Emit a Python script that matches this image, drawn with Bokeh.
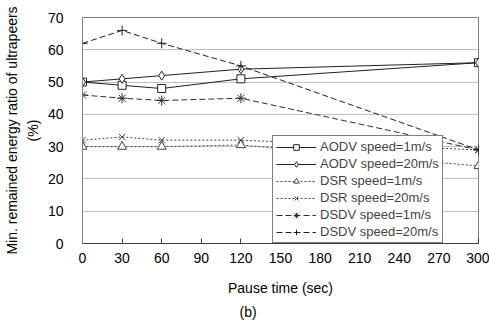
from bokeh.plotting import figure
from bokeh.models import Range1d, FixedTicker, Legend, Title
from bokeh.embed import file_html
from bokeh.resources import INLINE

pause = [0, 30, 60, 120, 300]
aodv_1 = [50, 49, 48, 51, 56]
aodv_20 = [50, 51, 52, 54, 56]
dsr_1 = [30, 30, 30, 30.5, 24]
dsr_20 = [32, 33, 32, 32, 29]
dsdv_1 = [46, 45, 44.3, 45, 29]
dsdv_20 = [62, 66, 62, 55, 29]

x_ticks = list(range(0, 301, 30))
y_ticks = list(range(0, 71, 10))

FONT = "Liberation Sans"

p = figure(width=489, height=326, output_backend="svg", toolbar_location=None,
           x_range=Range1d(0, 300), y_range=Range1d(0, 70),
           min_border_left=82, min_border_right=11, min_border_top=17, min_border_bottom=83)
p.background_fill_color = "white"
p.outline_line_color = "#808080"
p.outline_line_width = 1

p.xgrid.grid_line_color = None
p.ygrid.grid_line_color = "#c0c0c0"
p.ygrid.ticker = FixedTicker(ticks=y_ticks)

p.xaxis.ticker = FixedTicker(ticks=x_ticks)
p.yaxis.ticker = FixedTicker(ticks=y_ticks)
p.xaxis.minor_tick_line_color = None
p.yaxis.minor_tick_line_color = None
p.xaxis.major_tick_in = 5
p.xaxis.major_tick_out = 0
p.xaxis.major_tick_line_color = "#404040"
p.yaxis.major_tick_line_color = None
p.xaxis.axis_line_color = "#404040"
p.yaxis.axis_line_color = "#808080"

for ax in (p.xaxis[0], p.yaxis[0]):
    ax.major_label_text_font = FONT
    ax.major_label_text_font_size = "14px"
    ax.major_label_text_color = "black"
    ax.axis_label_text_font = FONT
    ax.axis_label_text_font_size = "14px"
    ax.axis_label_text_font_style = "normal"
    ax.axis_label_text_color = "black"

p.xaxis.axis_label = "Pause time (sec)"
p.xaxis.major_label_standoff = 9
p.xaxis.axis_label_standoff = 14
p.yaxis.axis_label = "Min. remained energy ratio of ultrapeers\n(%)"
p.yaxis.axis_label_text_line_height = 1.3
p.yaxis.major_label_standoff = 13
p.yaxis.axis_label_standoff = 4

series = [
    ("AODV speed=1m/s", aodv_1, "solid", "square", "#202020", 8),
    ("AODV speed=20m/s", aodv_20, "solid", "diamond", "#202020", 9),
    ("DSR speed=1m/s", dsr_1, "2 2", "triangle", "#404040", 9),
    ("DSR speed=20m/s", dsr_20, "2 2", "x", "#404040", 9),
    ("DSDV speed=1m/s", dsdv_1, "6 3", "asterisk", "#303030", 10),
    ("DSDV speed=20m/s", dsdv_20, "6 3", "cross", "#202020", 10),
]

items = []
for name, ys, dash, marker, lc, sz in series:
    r1 = p.line(pause, ys, line_color=lc, line_width=1, line_dash=dash)
    r2 = p.scatter(pause, ys, marker=marker, size=sz, line_color=lc, fill_color="white", line_width=1)
    items.append((name, [r1, r2]))

legend = Legend(items=items, location=(190, 0))
legend.label_text_font = FONT
legend.label_text_font_size = "13px"
legend.label_height = 14
legend.glyph_height = 14
legend.glyph_width = 40
legend.label_standoff = 4
legend.spacing = 2
legend.padding = 3
legend.margin = 0
legend.border_line_color = "black"
legend.border_line_width = 1
legend.background_fill_alpha = 1
p.add_layout(legend, "center")

cap = Title(text="(b)", align="left", offset=157, text_font=FONT, text_font_size="14px",
            text_font_style="normal", text_color="black", standoff=7)
p.add_layout(cap, "below")

open("out.html", "w").write(file_html(p, INLINE))
